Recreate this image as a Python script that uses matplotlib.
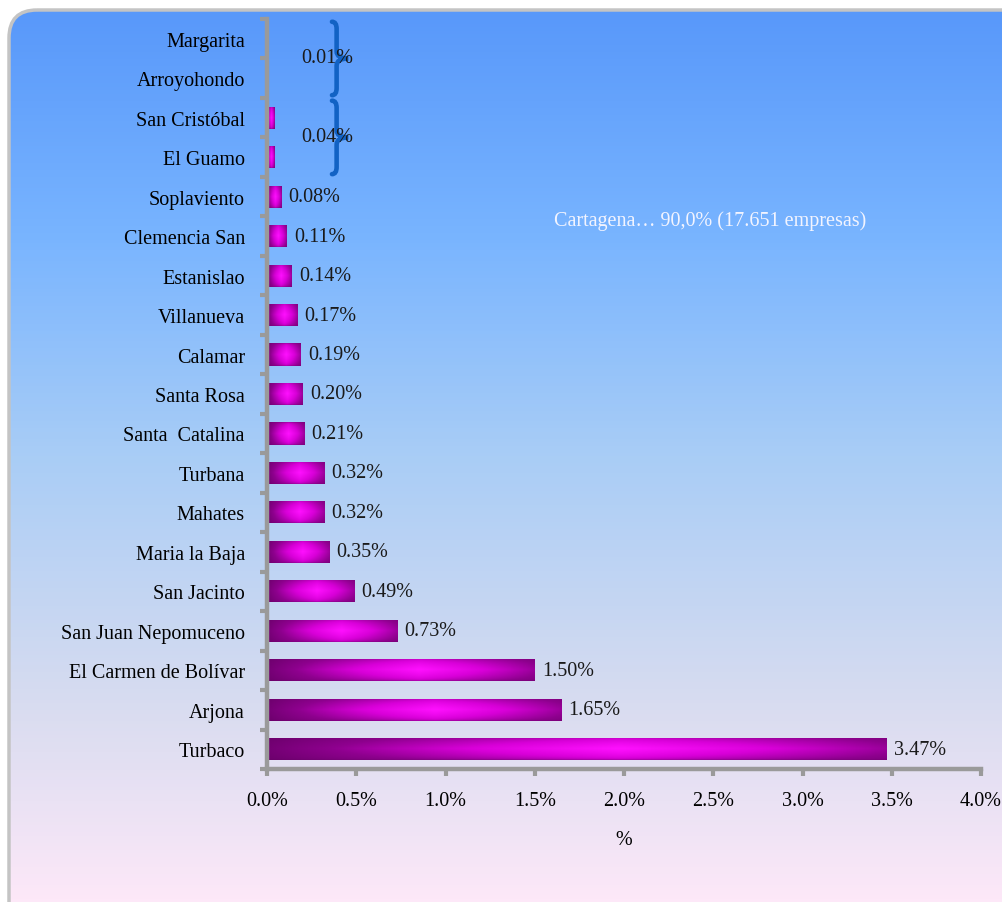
import numpy as np
import matplotlib
matplotlib.use("Agg")
import matplotlib.pyplot as plt
from matplotlib.colors import LinearSegmentedColormap
from matplotlib.patches import FancyBboxPatch, PathPatch
from matplotlib.path import Path

plt.rcParams['font.family'] = ['Liberation Serif', 'DejaVu Serif']

# data (bottom to top)
municipios = ['Turbaco', 'Arjona', 'El Carmen de Bolívar', 'San Juan Nepomuceno',
              'San Jacinto', 'Maria la Baja', 'Mahates', 'Turbana', 'Santa  Catalina',
              'Santa Rosa', 'Calamar', 'Villanueva', 'Estanislao', 'Clemencia San',
              'Soplaviento', 'El Guamo', 'San Cristóbal', 'Arroyohondo', 'Margarita']
porcentaje = [3.47, 1.65, 1.50, 0.73, 0.49, 0.35, 0.32, 0.32, 0.21, 0.20, 0.19,
              0.17, 0.14, 0.11, 0.08, 0.04, 0.04, 0.01, 0.01]
grupos = [('0.01%', 17, 18), ('0.04%', 15, 16)]  # label, first idx, last idx
xticks = np.arange(0, 4.01, 0.5)
nota = 'Cartagena\u2026 90,0% (17.651 empresas)'

fs = 14.5

fig = plt.figure(figsize=(10.02, 9.03), dpi=100)
fig.patch.set_facecolor('white')

# background panel with gradient and rounded border
bg = fig.add_axes([0, 0, 1, 1], zorder=0)
bg.set_xlim(0, 1002)
bg.set_ylim(903, 0)
bg.axis('off')
bg_cmap = LinearSegmentedColormap.from_list('bg', [
    (0.0, '#5898fa'), (0.25, '#78b4ff'), (0.5, '#a9cdf6'),
    (0.78, '#d8dcf0'), (1.0, '#fde8f8')])
grad = np.linspace(0, 1, 256).reshape(-1, 1)
panel = FancyBboxPatch((9, 11), 1040, 940, boxstyle='round,pad=0,rounding_size=28',
                       facecolor='none', edgecolor='#c4c4c4', linewidth=2.5, zorder=2)
bg.add_patch(panel)
im = bg.imshow(grad, extent=[9, 1049, 903, 11], aspect='auto', cmap=bg_cmap, zorder=1)
im.set_clip_path(panel)

ax = fig.add_axes([267 / 1002, 1 - 770 / 903, (981 - 267) / 1002, (770 - 20) / 903], zorder=1)
ax.set_facecolor('none')

y = np.arange(len(municipios))
bars = ax.barh(y, porcentaje, height=0.56, color='none', zorder=3)

# cylinder-like shading: dark purple at the ends, bright magenta near the middle
bar_cmap = LinearSegmentedColormap.from_list('bar', ['#620062', '#8e008e', '#d800d8', '#ff10ff'])
gx = np.linspace(0, 1, 200)
fx = 0.05 + 0.95 * np.clip(1 - np.abs(gx - 0.57) / 0.6, 0, 1) ** 0.8
gy = np.linspace(0, 1, 40)
fy = 0.45 + 0.55 * np.clip(1 - np.abs(gy - 0.5) / 0.5, 0, 1) ** 0.5
img = np.outer(fy, fx)
for b in bars:
    x0, y0 = b.get_x(), b.get_y()
    w, h = b.get_width(), b.get_height()
    bi = ax.imshow(img, extent=[x0, x0 + w, y0, y0 + h], aspect='auto',
                   cmap=bar_cmap, vmin=0, vmax=1, zorder=3, origin='lower')
    bi.set_clip_path(b)

for i, v in enumerate(porcentaje):
    if v > 0.05:
        ax.text(v + 0.04, i, f'{v:.2f}%', va='center', ha='left', fontsize=fs, color='#1a1a1a')

# braces for the tiny values
def brace(ax, ybot, ytop, x0=0.364, x1=0.39, xt=0.455, r=0.18):
    ym = (ybot + ytop) / 2
    verts = [(x0, ytop), (x1, ytop), (x1, ytop - r), (x1, ym + r), (x1, ym), (xt, ym),
             (x1, ym), (x1, ym - r), (x1, ybot + r), (x1, ybot), (x0, ybot)]
    codes = [Path.MOVETO, Path.CURVE3, Path.CURVE3, Path.LINETO, Path.CURVE3, Path.CURVE3,
             Path.CURVE3, Path.CURVE3, Path.LINETO, Path.CURVE3, Path.CURVE3]
    ax.add_patch(PathPatch(Path(verts, codes), facecolor='none', edgecolor='#1262c4',
                           linewidth=3.3, zorder=4, capstyle='round'))

for lab, lo, hi in grupos:
    brace(ax, lo - 0.43, hi + 0.43)
    ax.text(0.336, (lo + hi) / 2 + 0.02, lab, ha='center', va='center', fontsize=fs,
            color='#1a1a1a', zorder=5)

ax.text(2.48, 13.4, nota, ha='center', va='center', fontsize=fs, color='#f2f4ff')

ax.set_xlim(0, 4.0)
ax.set_ylim(-0.5, len(municipios) - 0.5)
ax.set_xticks(xticks)
ax.set_xticklabels([f'{t:.1f}%' for t in xticks], fontsize=fs)
ax.set_yticks(y)
ax.set_yticklabels(municipios, fontsize=fs)
ax.set_yticks(np.arange(-0.5, len(municipios)), minor=True)
ax.tick_params(axis='y', which='major', length=0, pad=16)
ax.tick_params(axis='y', which='minor', length=5, width=3, color='#9a9a9a', direction='out')
ax.tick_params(axis='x', which='major', length=5, width=3, color='#9a9a9a', direction='out', pad=11)
ax.set_xlabel('%', fontsize=fs, labelpad=14)
for s in ['top', 'right']:
    ax.spines[s].set_visible(False)
for s in ['left', 'bottom']:
    ax.spines[s].set_color('#9a9a9a')
    ax.spines[s].set_linewidth(3.2)
    ax.spines[s].set_zorder(4)

fig.savefig('out.png', dpi=100)
